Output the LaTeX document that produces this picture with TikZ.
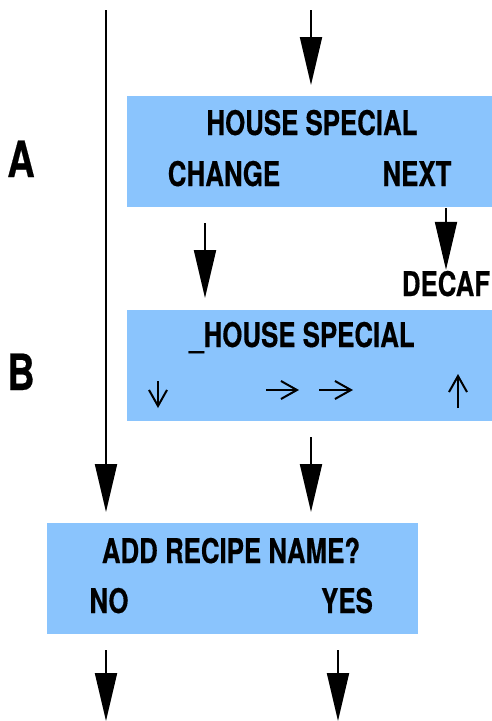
\documentclass[tikz,border=0pt]{standalone}
\usepackage{fontspec}
\setmainfont{TeX Gyre Heros}[FakeStretch=0.76,FakeBold=0.4]
\usetikzlibrary{arrows.meta}
\definecolor{screen}{RGB}{138,196,253}
\begin{document}
\begin{tikzpicture}[x=1pt,y=-1pt,line width=2pt,>={Triangle[length=48pt,width=22pt]},
	panel/.style={fill=screen,inner sep=0pt,anchor=north west,minimum height=111pt},
	txt/.style={font=\bfseries\fontsize{34}{34}\selectfont,inner sep=0pt,anchor=base},
	big/.style={font=\bfseries\fontsize{50}{50}\selectfont,inner sep=0pt,anchor=base},
	key/.style={-{Straight Barb[length=16pt,width=18pt]}}]
		\useasboundingbox (0,0) rectangle (492,721);
		% screens
		\node[panel,minimum width=366pt] (scrA) at (126,95) {};
		\node[panel,minimum width=366pt] (scrB) at (126,309) {};
		\node[panel,minimum width=371pt] (scrC) at (46,522) {};
		\node[big] (stepA) at (21,177) {A};
		\node[big] (stepB) at (21,390) {B};
		\node[txt] (house) at (312,135) {HOUSE SPECIAL};
		\node[txt] (change) at (224,186) {CHANGE};
		\node[txt] (next) at (417,186) {NEXT};
		\node[txt] (decaf) at (446,296) {DECAF};
		\node[txt] (edit) at (302,347) {\_HOUSE SPECIAL};
		\node[txt] (ask) at (231,563) {ADD RECIPE NAME?};
		\node[txt] (no) at (109,613) {NO};
		\node[txt] (yes) at (347,613) {YES};
		% keys on screen B
		\draw[key] (158,381)--(158,408);
		\draw[key] (266,390)--(299,390);
		\draw[key] (319,390)--(353,390);
		\draw[key] (458,408)--(458,374);
		% flow
		\coordinate (inL) at (106,10);
		\coordinate (inA) at (311,10);
		\coordinate (goB) at (205,223);
		\coordinate (goC) at (311,437);
		\coordinate (fromNo) at (106,650);
		\coordinate (fromYes) at (338,650);
		\coordinate (outNo) at (106,721);
		\coordinate (outYes) at (338,721);
		\draw[->,shorten >=10pt] (inL)--(inL |- scrC.north);
		\draw[->,shorten >=10pt] (inA)--(inA |- scrA.north);
		\draw[->,shorten >=11pt] (goB)--(goB |- scrB.north);
		\draw[->] (scrA.south -| decaf.north)--(decaf.north);
		\draw[->,shorten >=10pt] (goC)--(goC |- scrC.north);
		\draw[->] (fromNo)--(outNo);
		\draw[->] (fromYes)--(outYes);
\end{tikzpicture}
\end{document}
